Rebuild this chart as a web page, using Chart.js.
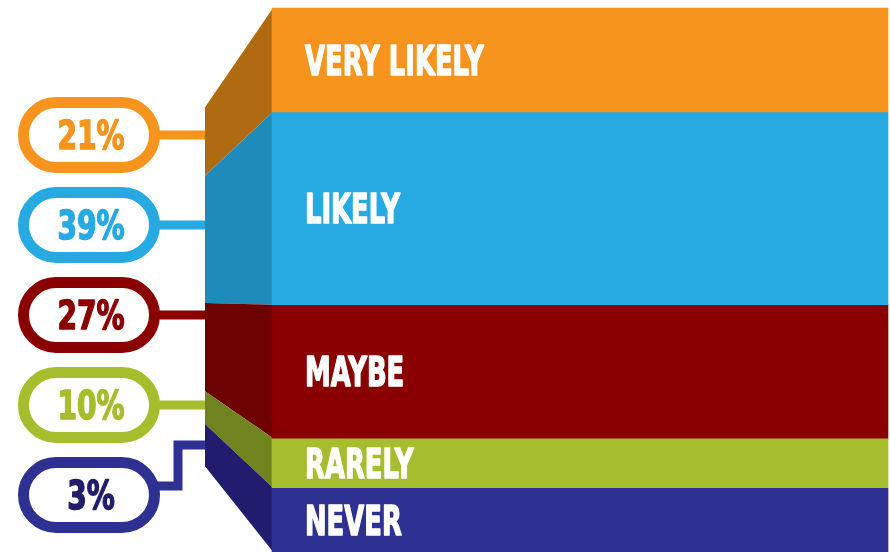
<!DOCTYPE html>
<html>
<head>
<meta charset="utf-8">
<title>Likelihood</title>
<script src="https://cdn.jsdelivr.net/npm/chart.js"></script>
<style>
  html, body { margin: 0; padding: 0; background: #fff; overflow: hidden; }
</style>
</head>
<body>
<canvas id="chartCanvas" width="890" height="552"></canvas>
<script>
const categories = ['VERY LIKELY', 'LIKELY', 'MAYBE', 'RARELY', 'NEVER'];
const percents = [21, 39, 27, 10, 3];

// colours: front face, side face, percent text
const frontColors = ['#F7941D', '#27AAE1', '#8A0000', '#A6BD2D', '#2E3192'];
const sideColors = ['#B06A12', '#1F8BBA', '#6D0000', '#6F831F', '#211C6E'];
const pctColors = ['#F7941D', '#27AAE1', '#8A0000', '#A6BD2D', '#221E6A'];

const FONT = '"DejaVu Sans", "Liberation Sans", sans-serif';
const DEPTH = 67;      // side face width
const VP_Y = 300;      // perspective centre of side face
const VP_K = 0.66;     // how much side face shrinks

function proj(y) { return VP_Y + VP_K * (y - VP_Y); }

// condensed-looking bold text: squeeze horizontally, thicken with a thin stroke
function squeezeText(ctx, text, x, y, sx, align) {
  ctx.save();
  ctx.translate(x, y);
  ctx.scale(sx, 1);
  ctx.textAlign = align;
  ctx.textBaseline = 'alphabetic';
  ctx.strokeStyle = ctx.fillStyle;
  ctx.lineWidth = 1.6;
  ctx.lineJoin = 'round';
  ctx.fillText(text, 0, 0);
  ctx.strokeText(text, 0, 0);
  ctx.restore();
}

function bandBox(bar) {
  return {
    top: Math.min(bar.y, bar.base),
    bottom: Math.max(bar.y, bar.base),
    left: bar.x - bar.width / 2
  };
}

// 3d side face of the stack, pills and labels
const sideFace = {
  id: 'sideFace',
  beforeDatasetsDraw(chart) {
    const ctx = chart.ctx;
    chart.data.datasets.forEach((ds, i) => {
      const bar = chart.getDatasetMeta(i).data[0];
      const b = bandBox(bar);
      ctx.save();
      ctx.fillStyle = sideColors[i];
      ctx.beginPath();
      ctx.moveTo(b.left + 1, b.top);
      ctx.lineTo(b.left + 1, b.bottom);
      ctx.lineTo(b.left - DEPTH, proj(b.bottom));
      ctx.lineTo(b.left - DEPTH, proj(b.top));
      ctx.closePath();
      ctx.fill();
      ctx.restore();
    });
  },
  afterDatasetsDraw(chart) {
    const ctx = chart.ctx;
    chart.data.datasets.forEach((ds, i) => {
      const bar = chart.getDatasetMeta(i).data[0];
      const b = bandBox(bar);
      const bottom = Math.min(b.bottom, chart.chartArea.bottom);

      // band title
      ctx.fillStyle = '#fff';
      ctx.font = 'bold 41px ' + FONT;
      squeezeText(ctx, categories[i], b.left + 33, (b.top + bottom) / 2 + 15, 0.63, 'left');

      // connector from pill to side face
      const cy = 135 + 90 * i;
      const backX = b.left - DEPTH;
      const backTop = proj(b.top), backBot = proj(bottom);
      ctx.save();
      ctx.strokeStyle = frontColors[i];
      ctx.lineWidth = 9;
      ctx.lineJoin = 'miter';
      ctx.beginPath();
      if (cy > backTop + 6 && cy < backBot - 6) {
        ctx.moveTo(150, cy);
        ctx.lineTo(backX, cy);
      } else {
        const ty = (backTop + backBot) / 2;
        ctx.moveTo(150, cy - 9);
        ctx.lineTo(178, cy - 9);
        ctx.lineTo(178, ty);
        ctx.lineTo(backX, ty);
      }
      ctx.stroke();

      // pill
      ctx.lineWidth = 11;
      ctx.fillStyle = '#fff';
      ctx.beginPath();
      ctx.roundRect(23.5, cy - 32.5, 131, 65, 32.5);
      ctx.fill();
      ctx.stroke();
      ctx.restore();

      ctx.fillStyle = pctColors[i];
      ctx.font = 'bold 39px ' + FONT;
      squeezeText(ctx, percents[i] + '%', 91, cy + 14, 0.72, 'center');
    });
  }
};

const ctx = document.getElementById('chartCanvas').getContext('2d');
new Chart(ctx, {
  type: 'bar',
  data: {
    labels: ['Answer'],
    datasets: categories.map((name, i) => ({
      label: name,
      data: [percents[i]],
      backgroundColor: frontColors[i],
      borderWidth: 0,
      barPercentage: 1,
      categoryPercentage: 1,
      minBarLength: i === categories.length - 1 ? 64 : 0,
      clip: false
    }))
  },
  options: {
    responsive: false,
    animation: false,
    layout: { padding: { left: 272, top: 8, right: 2, bottom: 0 } },
    plugins: { legend: { display: false }, tooltip: { enabled: false } },
    scales: {
      x: { stacked: true, display: false },
      y: { stacked: true, display: false, reverse: true, min: 0, max: 110 }
    }
  },
  plugins: [sideFace]
});
</script>
</body>
</html>
